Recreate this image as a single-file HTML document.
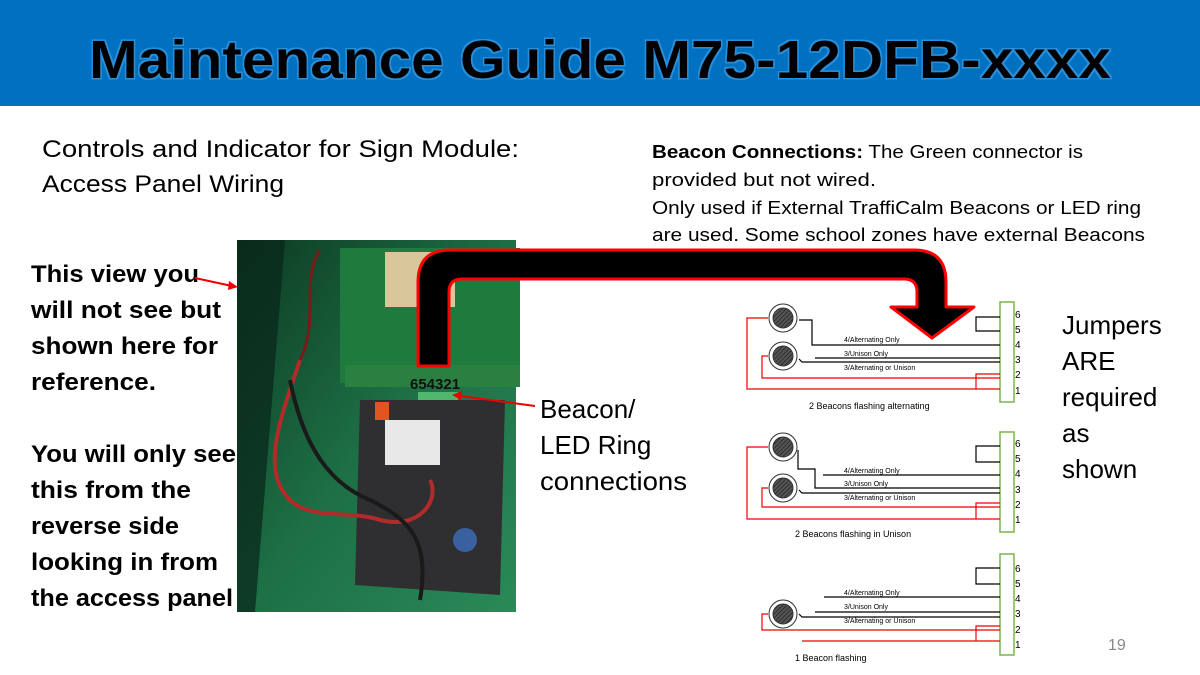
<!DOCTYPE html>
<html><head><meta charset="utf-8"><style>
html,body{margin:0;padding:0;background:#fff}
svg{display:block}
text{font-family:"Liberation Sans",sans-serif}
</style></head><body>
<svg width="1200" height="675" viewBox="0 0 1200 675" xmlns="http://www.w3.org/2000/svg">
<defs>
<pattern id="h" width="3" height="3" patternUnits="userSpaceOnUse" patternTransform="rotate(45)">
<rect width="3" height="3" fill="#555"/><line x1="0" y1="0" x2="0" y2="3" stroke="#222" stroke-width="1.5"/></pattern>
<linearGradient id="pg" x1="0" y1="0" x2="1" y2="1"><stop offset="0" stop-color="#0c3a22"/><stop offset="0.5" stop-color="#1d6f45"/><stop offset="1" stop-color="#2a8a58"/></linearGradient>
<filter id="glow"><feMorphology operator="dilate" radius="1.3" in="SourceAlpha" result="d"/><feFlood flood-color="#2a8fd8"/><feComposite in2="d" operator="in" result="g"/><feMerge><feMergeNode in="g"/><feMergeNode in="SourceGraphic"/></feMerge></filter>
</defs>
<rect x="0" y="0" width="1200" height="106" fill="#0070c0"/>
<text x="600" y="78" text-anchor="middle" font-size="54" font-weight="bold" fill="#000" textLength="1022" lengthAdjust="spacingAndGlyphs" filter="url(#glow)">Maintenance Guide M75-12DFB-xxxx</text>

<text x="42" y="157" font-size="24" fill="#000" textLength="477" lengthAdjust="spacingAndGlyphs">Controls and Indicator for Sign Module:</text>
<text x="42" y="192" font-size="24" fill="#000" textLength="242" lengthAdjust="spacingAndGlyphs">Access Panel Wiring</text>

<g font-size="18" fill="#000">
<text x="652" y="158" textLength="431" lengthAdjust="spacingAndGlyphs"><tspan font-weight="bold">Beacon Connections:</tspan>  The Green connector is</text>
<text x="652" y="186" textLength="224" lengthAdjust="spacingAndGlyphs">provided but not wired.</text>
<text x="652" y="214" textLength="489" lengthAdjust="spacingAndGlyphs">Only used if External TraffiCalm Beacons or LED ring</text>
<text x="652" y="241" textLength="493" lengthAdjust="spacingAndGlyphs">are used.  Some school zones have external Beacons</text>
</g>

<g font-size="24" font-weight="bold" fill="#000">
<text x="31" y="282" textLength="168" lengthAdjust="spacingAndGlyphs">This view you</text>
<text x="31" y="318" textLength="190" lengthAdjust="spacingAndGlyphs">will not see but</text>
<text x="31" y="354" textLength="187" lengthAdjust="spacingAndGlyphs">shown here for</text>
<text x="31" y="390" textLength="125" lengthAdjust="spacingAndGlyphs">reference.</text>
<text x="31" y="462" textLength="205" lengthAdjust="spacingAndGlyphs">You will only see</text>
<text x="31" y="498" textLength="160" lengthAdjust="spacingAndGlyphs">this from the</text>
<text x="31" y="534" textLength="148" lengthAdjust="spacingAndGlyphs">reverse side</text>
<text x="31" y="570" textLength="187" lengthAdjust="spacingAndGlyphs">looking in from</text>
<text x="31" y="606" textLength="202" lengthAdjust="spacingAndGlyphs">the access panel</text>
</g>

<!-- photo -->
<rect x="237" y="240" width="279" height="372" fill="url(#pg)"/>
<polygon points="237,240 285,240 255,612 237,612" fill="#08251a" opacity="0.7"/>
<rect x="340" y="248" width="180" height="135" fill="#1f7a3e"/>
<rect x="385" y="252" width="70" height="55" fill="#d8c79a"/>
<rect x="345" y="365" width="175" height="22" fill="#2a8040"/>
<rect x="418" y="392" width="40" height="14" fill="#4fb86c"/>
<polygon points="360,400 505,400 500,595 355,585" fill="#2f2f31"/>
<rect x="385" y="420" width="55" height="45" fill="#e8e8e8"/>
<rect x="375" y="402" width="14" height="18" fill="#e0561e"/>
<path d="M300,360 C280,420 260,470 290,500 C310,520 350,510 380,520 C420,530 440,500 430,480" fill="none" stroke="#b32a2a" stroke-width="4"/>
<path d="M290,380 C300,430 320,480 370,500 C410,520 430,540 420,600" fill="none" stroke="#1a1a1a" stroke-width="4"/>
<path d="M320,250 C300,280 320,320 300,360" fill="none" stroke="#7a1a1a" stroke-width="3"/>
<circle cx="465" cy="540" r="12" fill="#3a60a0"/>
<text x="410" y="389" font-size="15" font-weight="bold" fill="#111">654321</text>

<!-- red arrows -->
<line x1="195" y1="278" x2="232" y2="286" stroke="#e00" stroke-width="2"/>
<polygon points="238,287 229,281 228,290" fill="#e00"/>
<line x1="535" y1="406" x2="460" y2="396" stroke="#e00" stroke-width="2"/>
<polygon points="452,395 462,391 461,400" fill="#e00"/>

<g font-size="26" fill="#000">
<text x="540" y="418">Beacon/</text>
<text x="540" y="454">LED Ring</text>
<text x="540" y="490" textLength="147" lengthAdjust="spacingAndGlyphs">connections</text>
<text x="1062" y="334">Jumpers</text>
<text x="1062" y="370">ARE</text>
<text x="1062" y="406">required</text>
<text x="1062" y="442">as</text>
<text x="1062" y="478">shown</text>
</g>

<!-- big arrow -->
<path d="M418,366 L418,282 Q418,250 450,250 L914,250 Q946,250 946,282 L946,307 L974,307 L932,338 L891,307 L917,307 L917,292 Q917,279 904,279 L462,279 Q449,279 449,292 L449,366 Z" fill="#000" stroke="#f00" stroke-width="3" stroke-linejoin="round"/>

<g stroke-width="1.2" fill="none">
<rect x="1000" y="302" width="14" height="100" stroke="#7ab648" stroke-width="1.5" fill="#fff"/>
<path d="M1000,317 H976 V331 H1000" stroke="#000"/>
<path d="M799,320 H812 V345 H1000" stroke="#000"/>
<path d="M815,358 H1000" stroke="#000"/>
<path d="M799,359 L802,362 H1000" stroke="#000"/>
<path d="M768,318 H747 V389 H1000" stroke="#e00"/>
<path d="M768,356 H762 V378 H1000 M1000,374 H976 V389" stroke="#e00"/>
<rect x="1000" y="432" width="14" height="100" stroke="#7ab648" stroke-width="1.5" fill="#fff"/>
<path d="M1000,446 H976 V462 H1000" stroke="#000"/>
<path d="M798,450 V469 H815 V488 H1000" stroke="#000"/>
<path d="M823,475 H1000" stroke="#000"/>
<path d="M799,490 L802,493 H1000" stroke="#000"/>
<path d="M768,447 H747 V519 H1000" stroke="#e00"/>
<path d="M768,488 H762 V507 H1000 M1000,503 H976 V519" stroke="#e00"/>
<rect x="1000" y="554" width="14" height="101" stroke="#7ab648" stroke-width="1.5" fill="#fff"/>
<path d="M1000,568 H976 V584 H1000" stroke="#000"/>
<path d="M824,597 H1000" stroke="#000"/>
<path d="M815,612 H1000" stroke="#000"/>
<path d="M799,614 L802,617 H1000" stroke="#000"/>
<path d="M768,614 H762 V630 H1000 M1000,626 H976 V641" stroke="#e00"/>
<path d="M802,641 H1000" stroke="#e00"/>
</g>
<g stroke="#333" stroke-width="1">
<circle cx="783" cy="318" r="14" fill="#fff"/><circle cx="783" cy="318" r="10" fill="url(#h)"/>
<circle cx="783" cy="356" r="14" fill="#fff"/><circle cx="783" cy="356" r="10" fill="url(#h)"/>
<circle cx="783" cy="447" r="14" fill="#fff"/><circle cx="783" cy="447" r="10" fill="url(#h)"/>
<circle cx="783" cy="488" r="14" fill="#fff"/><circle cx="783" cy="488" r="10" fill="url(#h)"/>
<circle cx="783" cy="614" r="14" fill="#fff"/><circle cx="783" cy="614" r="10" fill="url(#h)"/>
</g>
<g font-size="7" fill="#000">
<text x="844" y="342">4/Alternating Only</text><text x="844" y="356">3/Unison Only</text><text x="844" y="370">3/Alternating or Unison</text>
<text x="844" y="473">4/Alternating Only</text><text x="844" y="486">3/Unison Only</text><text x="844" y="500">3/Alternating or Unison</text>
<text x="844" y="595">4/Alternating Only</text><text x="844" y="609">3/Unison Only</text><text x="844" y="623">3/Alternating or Unison</text>
</g>
<g font-size="9" fill="#000">
<text x="809" y="409">2 Beacons flashing alternating</text>
<text x="795" y="537">2 Beacons flashing in Unison</text>
<text x="795" y="661">1 Beacon flashing</text>
</g>
<g font-size="10" fill="#000">
<text x="1015" y="318">6</text><text x="1015" y="333">5</text><text x="1015" y="348">4</text><text x="1015" y="363">3</text><text x="1015" y="378">2</text><text x="1015" y="394">1</text>
<text x="1015" y="447">6</text><text x="1015" y="462">5</text><text x="1015" y="477">4</text><text x="1015" y="493">3</text><text x="1015" y="508">2</text><text x="1015" y="523">1</text>
<text x="1015" y="572">6</text><text x="1015" y="587">5</text><text x="1015" y="602">4</text><text x="1015" y="617">3</text><text x="1015" y="633">2</text><text x="1015" y="648">1</text>
</g>
<text x="1108" y="650" font-size="16" fill="#888">19</text>
</svg>
</body></html>
